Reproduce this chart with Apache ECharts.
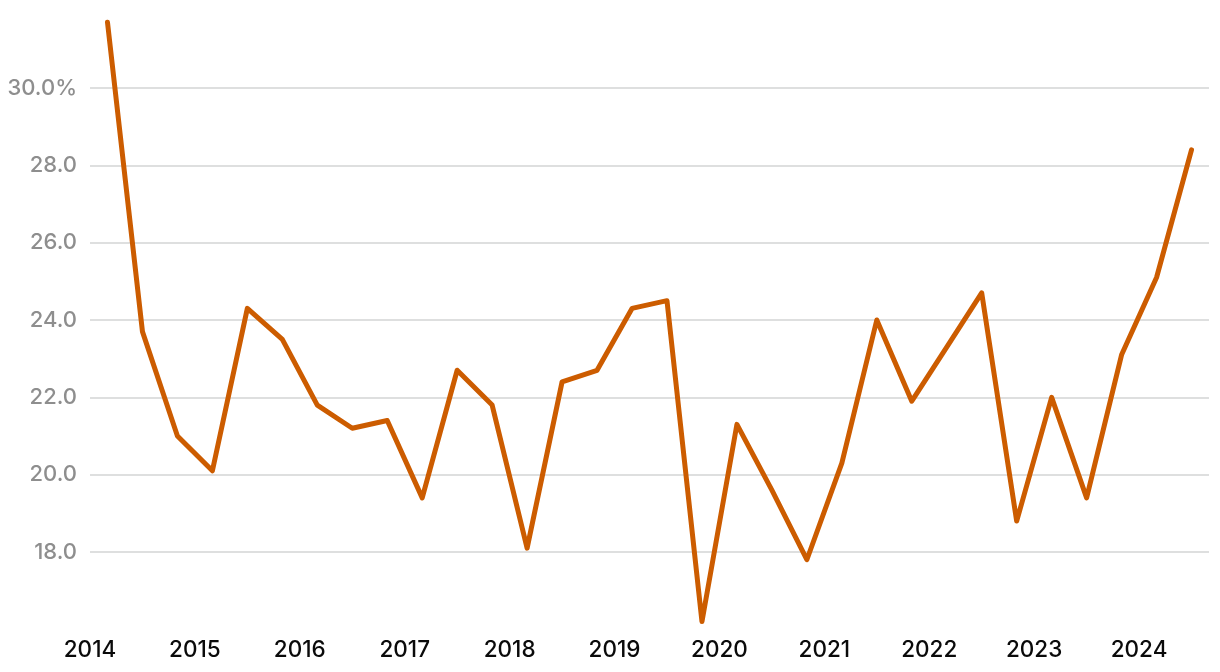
<!DOCTYPE html>
<html>
<head>
<meta charset="utf-8">
<script src="https://cdn.jsdelivr.net/npm/echarts@6/dist/echarts.min.js"></script>
<style>
html,body{margin:0;padding:0;background:#fff;}
#chart{width:1220px;height:672px;}
</style>
</head>
<body>
<div id="chart"></div>
<script>
// Periods: three observations per year, starting 2014
const startYear = 2014;
const periodsPerYear = 3;
const yearLabels = ['2014','2015','2016','2017','2018','2019','2020','2021','2022','2023','2024'];
const values = [
  31.7, 23.7, 21.0,
  20.1, 24.3, 23.5,
  21.8, 21.2, 21.4,
  19.4, 22.7, 21.8,
  18.1, 22.4, 22.7,
  24.3, 24.5, 16.2,
  21.3, 19.6, 17.8,
  20.3, 24.0, 21.9,
  23.3, 24.7, 18.8,
  22.0, 19.4, 23.1,
  25.1, 28.4
];
const yTicks = [18, 20, 22, 24, 26, 28, 30];

const seriesData = values.map((v, i) => [startYear + (i + 0.5) / periodsPerYear, v]);
const xMax = startYear + values.length / periodsPerYear;

const chart = echarts.init(document.getElementById('chart'), null, {renderer: 'canvas'});
const FONT = 'Inter, "Noto Sans", sans-serif';
chart.setOption({
  animation: false,
  backgroundColor: '#ffffff',
  grid: {left: 90, right: 11, top: 10.67, bottom: 42.67, containLabel: false},
  xAxis: {
    type: 'value',
    min: startYear,
    max: xMax,
    interval: 1,
    axisLine: {show: false},
    axisTick: {show: false},
    splitLine: {show: false},
    axisLabel: {
      showMaxLabel: false,
      margin: 9,
      color: '#0a0a0a',
      fontFamily: FONT,
      fontSize: 22.5,
      fontWeight: 500,
      formatter: function (v) {
        const idx = Math.round(v - startYear);
        return (Math.abs(v - Math.round(v)) < 1e-6 && yearLabels[idx]) ? yearLabels[idx] : '';
      }
    }
  },
  yAxis: {
    type: 'value',
    min: 16,
    max: 32,
    interval: 2,
    axisLine: {show: false},
    axisTick: {show: false},
    splitLine: {
      show: true,
      lineStyle: {
        color: ['rgba(0,0,0,0)', '#d3d5d5', '#d3d5d5', '#d3d5d5', '#d3d5d5', '#d3d5d5', '#d3d5d5', '#d3d5d5', 'rgba(0,0,0,0)'],
        width: 1.5
      }
    },
    axisLabel: {
      margin: 13,
      color: '#8e8e8e',
      fontFamily: FONT,
      fontSize: 22,
      fontWeight: 500,
      formatter: function (v) {
        if (yTicks.indexOf(v) < 0) return '';
        return v === 30 ? v.toFixed(1) + '%' : v.toFixed(1);
      }
    }
  },
  series: [{
    type: 'line',
    data: seriesData,
    showSymbol: false,
    symbol: 'none',
    lineStyle: {color: '#cc5c00', width: 5, cap: 'round', join: 'round'},
    itemStyle: {color: '#cc5c00'}
  }]
});
</script>
</body>
</html>
